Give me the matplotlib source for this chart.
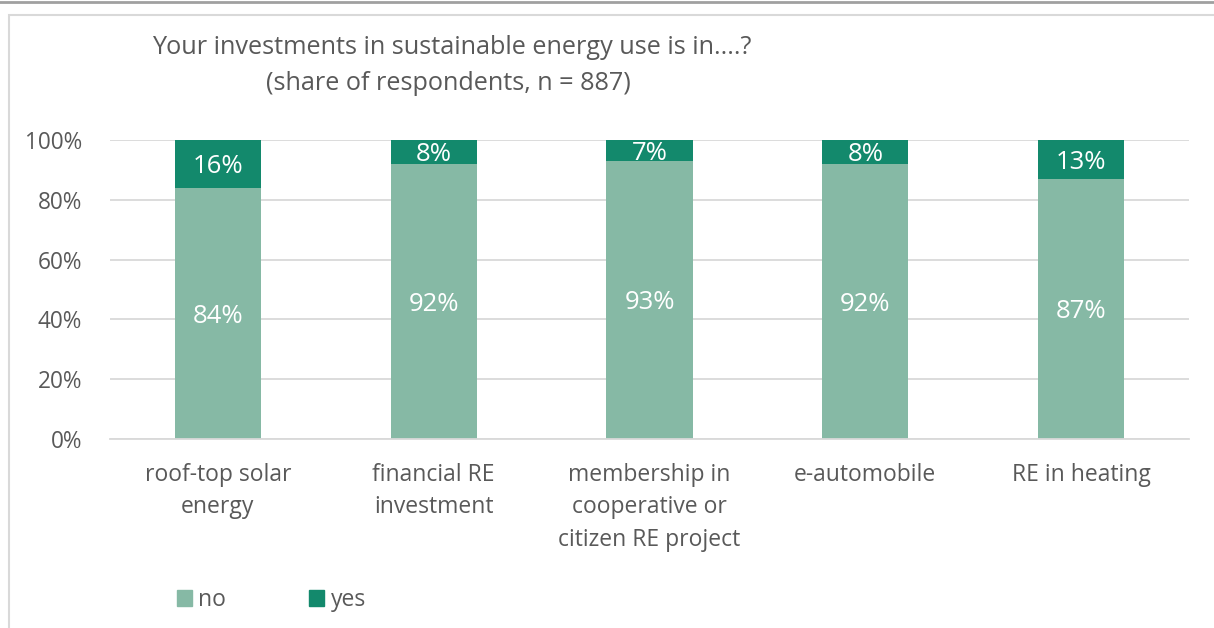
import matplotlib.pyplot as plt
import numpy as np
from matplotlib.patches import Rectangle
from matplotlib.lines import Line2D

plt.rcParams['font.family'] = ['Open Sans', 'DejaVu Sans']

categories = ["roof-top solar\nenergy", "financial RE\ninvestment",
              "membership in\ncooperative or\ncitizen RE project",
              "e-automobile", "RE in heating"]
no_vals = [84, 92, 93, 92, 87]
yes_vals = [16, 8, 7, 8, 13]
yticks = [0, 20, 40, 60, 80, 100]

c_no = "#86B9A5"
c_yes = "#13896C"
grey = "#595959"
grid = "#D9D9D9"

fig = plt.figure(figsize=(12.14, 6.28), dpi=100)
ax = fig.add_axes([110 / 1214, 1 - 439 / 628, 1079 / 1214, 299 / 628])

x = np.arange(len(categories))
ax.bar(x, no_vals, width=0.4, color=c_no, zorder=2)
ax.bar(x, yes_vals, width=0.4, bottom=no_vals, color=c_yes, zorder=2)

# labels inside the segments
for i in range(len(categories)):
    ax.text(x[i], no_vals[i] / 2, f"{no_vals[i]}%", ha='center', va='center_baseline',
            color='white', fontsize=18.5)
    ax.text(x[i], no_vals[i] + yes_vals[i] / 2, f"{yes_vals[i]}%", ha='center',
            va='center_baseline', color='white', fontsize=18.5)

ax.set_xlim(-0.5, len(categories) - 0.5)
ax.set_ylim(0, 100)
ax.set_yticks(yticks)
ax.set_yticklabels([f"{v}%" for v in yticks])
ax.set_xticks(x)
ax.set_xticklabels(categories, linespacing=1.47)
ax.tick_params(axis='y', length=0, pad=20, labelsize=16.3, labelcolor=grey)
ax.tick_params(axis='x', length=0, pad=17, labelsize=16.5, labelcolor=grey)
ax.yaxis.grid(True, color=grid, linewidth=1.3, zorder=0)
ax.set_axisbelow(True)
for s in ['top', 'right', 'left']:
    ax.spines[s].set_visible(False)
ax.spines['bottom'].set_color(grid)
ax.spines['bottom'].set_linewidth(1.3)

# title
fig.text(452 / 1214, 1 - 48 / 628, "Your investments in sustainable energy use is in....?",
         ha='center', va='center', fontsize=18.2, color=grey)
fig.text(448 / 1214, 1 - 84 / 628, "(share of respondents, n = 887)",
         ha='center', va='center', fontsize=18.2, color=grey)

# legend
handles = [Rectangle((0, 0), 1, 1, color=c_no), Rectangle((0, 0), 1, 1, color=c_yes)]
fig.legend(handles, ["no", "yes"], loc='center left',
           bbox_to_anchor=(156 / 1214, 1 - 600 / 628), ncol=2, frameon=False,
           fontsize=16.5, handlelength=0.65, handleheight=0.65, handletextpad=0.3,
           columnspacing=3.6, labelcolor=grey)

# chart border
fig.add_artist(Rectangle((9 / 1214, -0.05), 1.1, (628 - 15) / 628 + 0.05,
                         transform=fig.transFigure, fill=False, edgecolor="#D9D9D9",
                         linewidth=1.5))
fig.add_artist(Line2D([0, 1], [1 - 2 / 628, 1 - 2 / 628], transform=fig.transFigure,
                      color="#A0A0A0", linewidth=2))

fig.savefig("out.png", dpi=100)
